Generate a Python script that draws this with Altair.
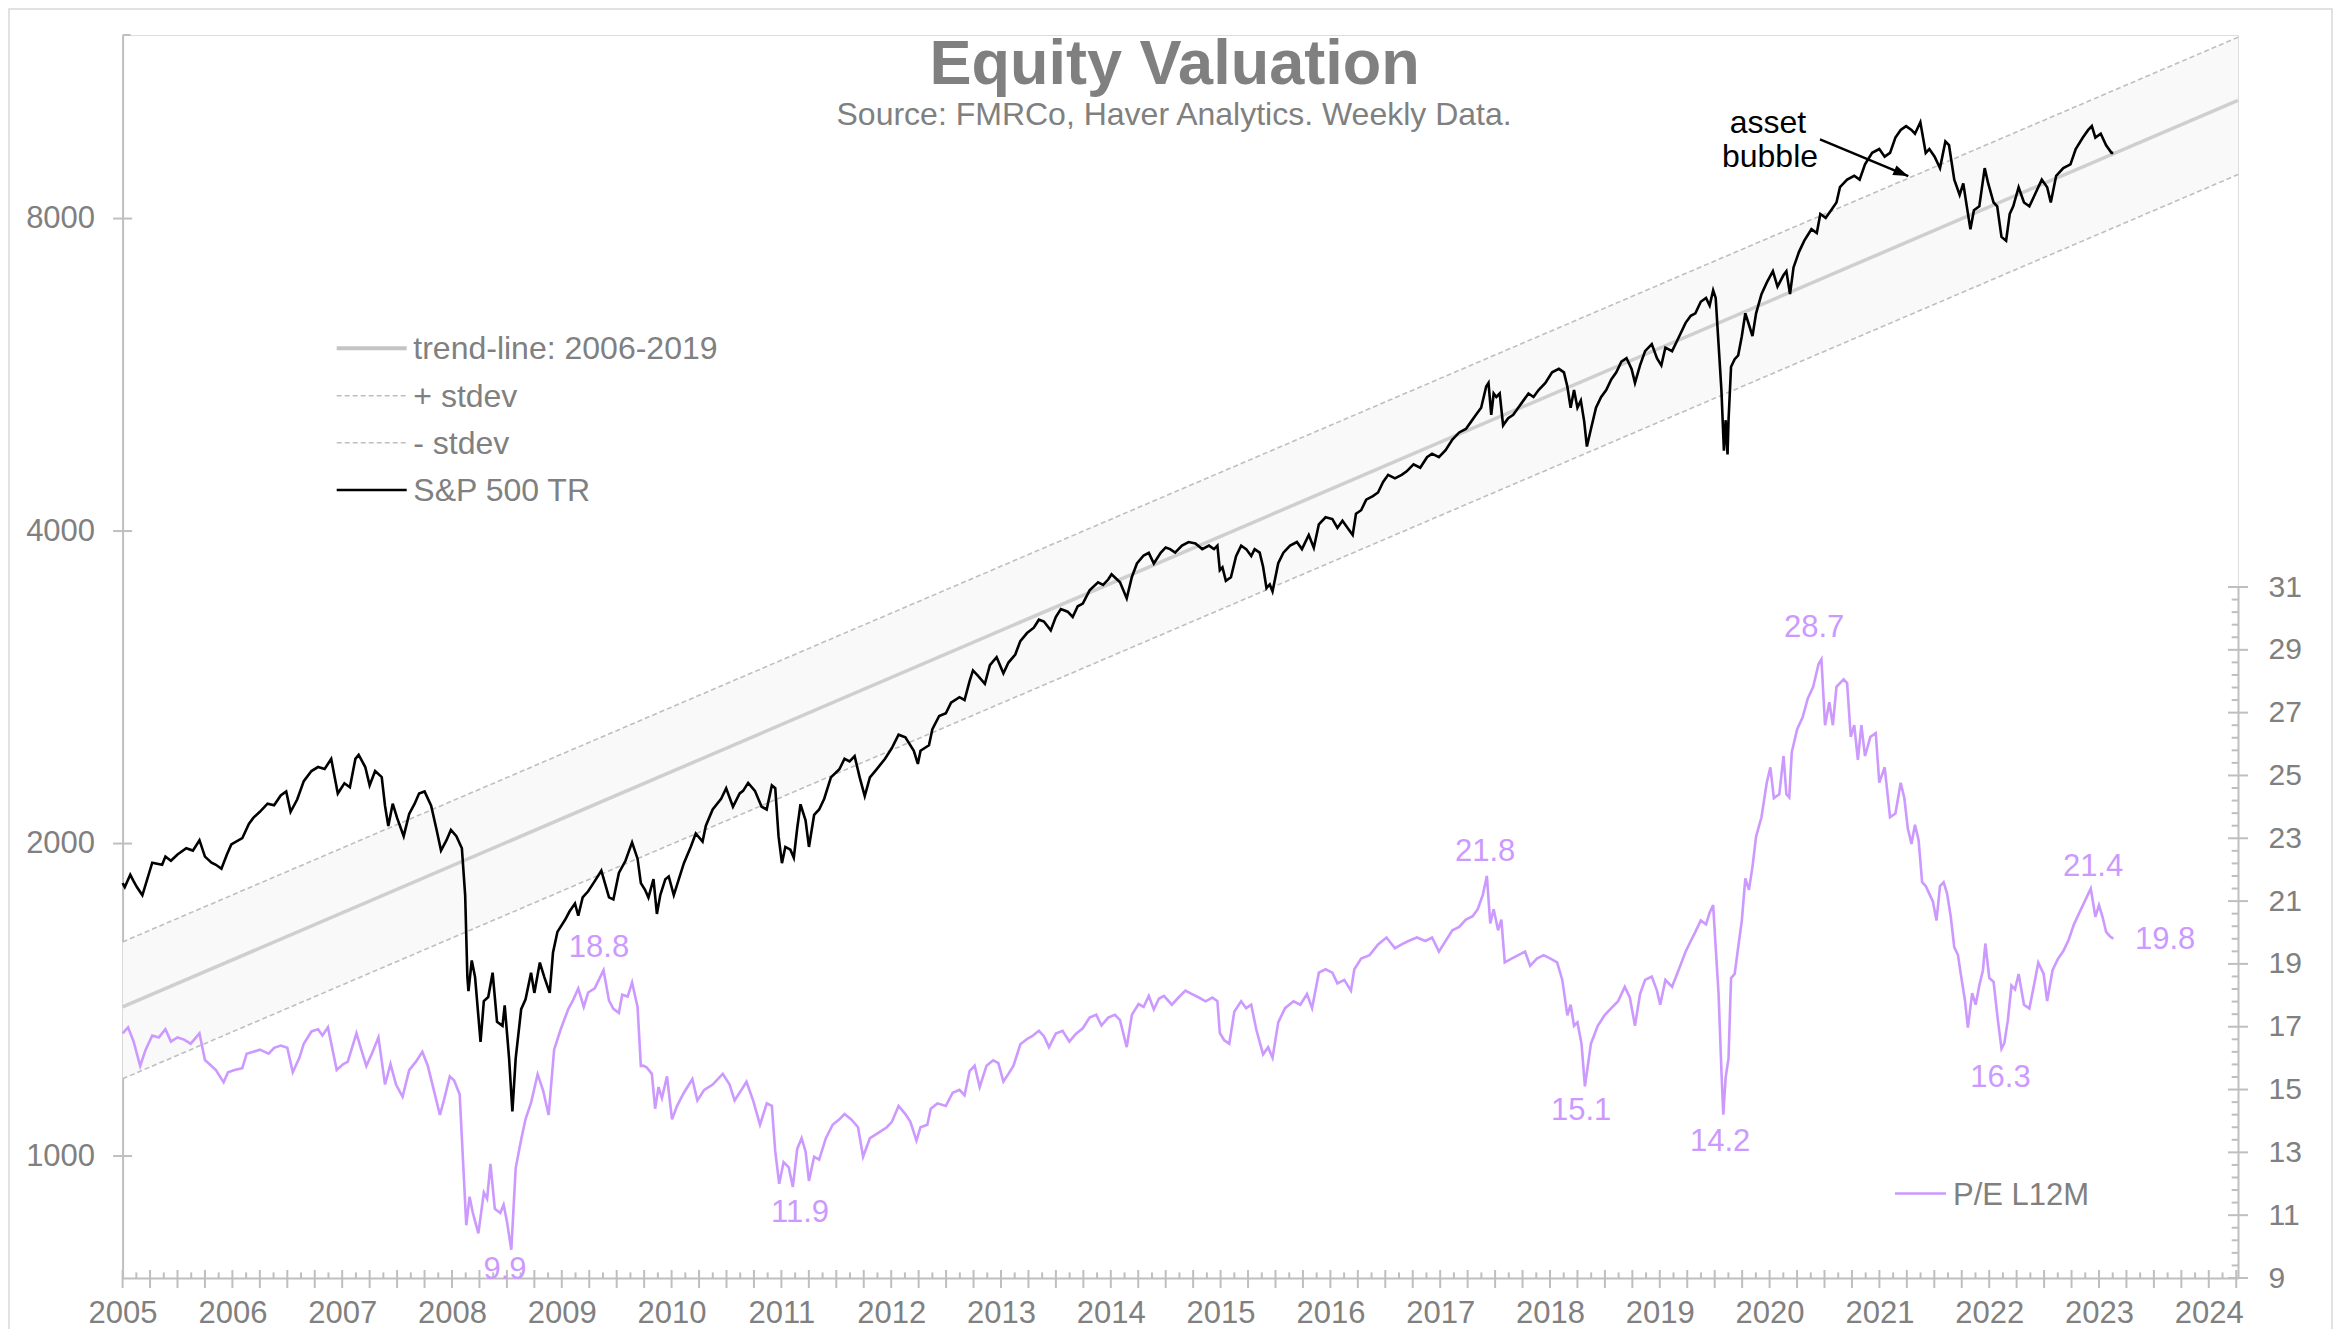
import altair as alt
import numpy as np
import pandas as pd

# ---------------- data ----------------
sp_year = [
    2005.00, 2005.02, 2005.07, 2005.10, 2005.13, 2005.18, 2005.27, 2005.36, 2005.39, 2005.44,
    2005.50, 2005.58, 2005.64, 2005.70, 2005.75, 2005.81, 2005.85, 2005.90, 2005.95, 2005.99,
    2006.09, 2006.15, 2006.19, 2006.25, 2006.32, 2006.38, 2006.44, 2006.49, 2006.53, 2006.59,
    2006.65, 2006.72, 2006.78, 2006.84, 2006.90, 2006.96, 2007.02, 2007.07, 2007.12, 2007.15,
    2007.21, 2007.25, 2007.30, 2007.36, 2007.39, 2007.42, 2007.46, 2007.50, 2007.56, 2007.61,
    2007.66, 2007.70, 2007.75, 2007.81, 2007.86, 2007.90, 2007.95, 2007.99, 2008.04, 2008.09,
    2008.12, 2008.14, 2008.15, 2008.18, 2008.21, 2008.26, 2008.29, 2008.33, 2008.37, 2008.41,
    2008.46, 2008.48, 2008.52, 2008.55, 2008.58, 2008.63, 2008.67, 2008.72, 2008.75, 2008.80,
    2008.84, 2008.89, 2008.92, 2008.96, 2009.03, 2009.07, 2009.12, 2009.15, 2009.19, 2009.24,
    2009.30, 2009.36, 2009.43, 2009.47, 2009.52, 2009.58, 2009.64, 2009.69, 2009.72,
    2009.758, 2009.789, 2009.835, 2009.866, 2009.897, 2009.943, 2009.974, 2010.020, 2010.066, 2010.112,
    2010.174, 2010.220, 2010.282, 2010.312, 2010.374, 2010.451, 2010.497, 2010.559, 2010.620, 2010.651,
    2010.697, 2010.759, 2010.820, 2010.866, 2010.913, 2010.944, 2010.974, 2011.005, 2011.036, 2011.082,
    2011.113, 2011.144, 2011.174, 2011.220, 2011.251, 2011.298, 2011.344, 2011.390, 2011.451, 2011.528,
    2011.575, 2011.621, 2011.667, 2011.713, 2011.759, 2011.806, 2011.867, 2011.944, 2012.006, 2012.067,
    2012.129, 2012.206, 2012.243, 2012.267, 2012.344, 2012.375, 2012.437, 2012.498, 2012.545, 2012.622,
    2012.668, 2012.714, 2012.745, 2012.791, 2012.853, 2012.899, 2012.960, 2013.022, 2013.068, 2013.130,
    2013.176, 2013.237, 2013.299, 2013.345, 2013.391, 2013.453, 2013.499, 2013.545, 2013.607, 2013.653,
    2013.699, 2013.745, 2013.807, 2013.884, 2013.930, 2013.976, 2014.007, 2014.084, 2014.145, 2014.192,
    2014.238, 2014.299, 2014.346, 2014.392, 2014.454, 2014.500,
    2014.540, 2014.586, 2014.648, 2014.709, 2014.771, 2014.833, 2014.894, 2014.940, 2014.971, 2014.993,
    2015.017, 2015.048, 2015.094, 2015.141, 2015.187, 2015.233, 2015.279, 2015.310, 2015.356, 2015.387,
    2015.418, 2015.448, 2015.473, 2015.525, 2015.572, 2015.633, 2015.695, 2015.741, 2015.803, 2015.849,
    2015.895, 2015.956, 2016.018, 2016.064, 2016.110, 2016.157, 2016.203, 2016.233, 2016.280, 2016.326,
    2016.387, 2016.434, 2016.480, 2016.526, 2016.588, 2016.649, 2016.695, 2016.757, 2016.818, 2016.880,
    2016.926, 2016.988, 2017.049, 2017.111, 2017.173, 2017.234, 2017.280, 2017.326, 2017.373, 2017.419,
    2017.440, 2017.465, 2017.487, 2017.511, 2017.542, 2017.573, 2017.619, 2017.665, 2017.711, 2017.757,
    2017.804, 2017.850, 2017.896, 2017.958, 2018.019, 2018.081, 2018.127, 2018.158, 2018.188, 2018.219,
    2018.250, 2018.281, 2018.312, 2018.336, 2018.373, 2018.419, 2018.466, 2018.512, 2018.558, 2018.604,
    2018.650, 2018.697, 2018.743, 2018.774, 2018.820, 2018.866, 2018.927, 2018.974, 2019.014, 2019.051,
    2019.112, 2019.174, 2019.235, 2019.282,
    2019.324, 2019.373, 2019.421, 2019.454, 2019.486, 2019.509, 2019.535, 2019.561, 2019.584, 2019.600,
    2019.617, 2019.626, 2019.649, 2019.682, 2019.714, 2019.747, 2019.779, 2019.812, 2019.844, 2019.877,
    2019.926, 2019.974, 2020.030, 2020.072, 2020.127, 2020.153, 2020.186, 2020.218, 2020.267, 2020.316,
    2020.381, 2020.430, 2020.462, 2020.511, 2020.560, 2020.609, 2020.641, 2020.706, 2020.771, 2020.820,
    2020.869, 2020.934, 2020.999, 2021.048, 2021.097, 2021.146, 2021.194, 2021.243, 2021.292, 2021.324,
    2021.373, 2021.422, 2021.455, 2021.503, 2021.552, 2021.601, 2021.634, 2021.682, 2021.731, 2021.764,
    2021.796, 2021.829, 2021.861, 2021.910, 2021.959, 2021.991, 2022.040, 2022.073, 2022.112, 2022.154,
    2022.187, 2022.219, 2022.268, 2022.317, 2022.366, 2022.431, 2022.479, 2022.528, 2022.561, 2022.610,
    2022.675, 2022.740, 2022.788, 2022.853, 2022.902, 2022.935, 2022.967, 2023.016, 2023.065, 2023.114,
    2023.130,
]
sp_value = [
    1832, 1816, 1866, 1840, 1816, 1783, 1917, 1908, 1943, 1925,
    1952, 1979, 1969, 2015, 1943, 1917, 1908, 1891, 1952, 1996,
    2024, 2089, 2117, 2146, 2185, 2177, 2225, 2245, 2146, 2205,
    2297, 2349, 2370, 2360, 2413, 2235, 2286, 2266, 2413, 2435,
    2370, 2276, 2349, 2318, 2175, 2079, 2185, 2117, 2033, 2136,
    2185, 2235, 2245, 2175, 2061, 1969, 2015, 2061, 2033, 1979,
    1783, 1488, 1442, 1543, 1488, 1288, 1410, 1423, 1502, 1347,
    1335, 1397, 1242, 1104, 1242, 1385, 1416, 1502, 1436, 1536,
    1488, 1436, 1571, 1644, 1689, 1720, 1751, 1704, 1775, 1799,
    1840, 1883, 1775, 1767, 1874, 1925, 2005, 1934, 1832,
    1805, 1774, 1848, 1711, 1784, 1848, 1859, 1784, 1848, 1915,
    1985, 2045, 2009, 2081, 2157, 2209, 2261, 2170, 2235, 2248,
    2288, 2248, 2170, 2157, 2275, 2261, 2033, 1915, 1985, 1973,
    1938, 2069, 2182, 2106, 1985, 2131, 2157, 2209, 2316, 2358,
    2414, 2400, 2428, 2316, 2222, 2316, 2358, 2414, 2472, 2546,
    2531, 2457, 2386, 2457, 2487, 2577, 2654, 2670, 2734, 2767,
    2750, 2867, 2936, 2901, 2850, 2971, 3024, 2918, 2988, 3042,
    3134, 3190, 3228, 3286, 3273, 3209, 3306, 3365, 3345, 3306,
    3385, 3405, 3507, 3570, 3549, 3592, 3635, 3570, 3445, 3613,
    3722, 3789, 3811, 3722, 3811, 3857,
    3843, 3813, 3873, 3904, 3892, 3843, 3873, 3843, 3873, 3667,
    3690, 3582, 3610, 3784, 3873, 3843, 3784, 3843, 3813, 3696,
    3525, 3553, 3498, 3724, 3813, 3873, 3904, 3843, 3966, 3855,
    4060, 4124, 4108, 4028, 4092, 4028, 3966, 4157, 4189, 4289,
    4322, 4357, 4461, 4531, 4496, 4531, 4567, 4639, 4603, 4712,
    4749, 4712, 4786, 4900, 4978, 5017, 5096, 5177, 5259, 5512,
    5556, 5177, 5427, 5385, 5427, 5057, 5137, 5177, 5259, 5342,
    5427, 5385, 5469, 5556, 5688, 5732, 5688, 5512, 5259, 5469,
    5259, 5342, 5096, 4825, 5017, 5259, 5385, 5469, 5599, 5688,
    5823, 5868, 5732, 5556, 5777, 5962, 6056, 5868, 5777, 6009,
    5962, 6152, 6348, 6448,
    6484, 6651, 6708, 6596, 6823, 6708, 6059, 5473, 4780, 5115,
    4740, 5115, 5759, 5857, 5907, 6163, 6484, 6321, 6163, 6484,
    6765, 6939, 7118, 6880, 7058, 7118, 6765, 7178, 7426, 7617,
    7813, 7747, 8082, 8013, 8150, 8290, 8576, 8722, 8796, 8722,
    9023, 9255, 9334, 9177, 9255, 9574, 9738, 9821, 9738, 9656,
    9905, 9255, 9334, 9177, 8947, 9493, 9413, 8722, 8432, 8648,
    8219, 7813, 8150, 8219, 8947, 8648, 8290, 8219, 7681, 7617,
    8082, 8219, 8576, 8290, 8219, 8503, 8722, 8576, 8290, 8796,
    8947, 9023, 9334, 9574, 9738, 9821, 9574, 9656, 9413, 9255,
    9255,
]

pe_year = [
    2005.00, 2005.05, 2005.10, 2005.16, 2005.21, 2005.27, 2005.33, 2005.39, 2005.44, 2005.50,
    2005.56, 2005.62, 2005.70, 2005.75, 2005.81, 2005.85, 2005.92, 2005.96, 2006.02, 2006.09,
    2006.13, 2006.19, 2006.25, 2006.33, 2006.38, 2006.44, 2006.50, 2006.55, 2006.61, 2006.65,
    2006.72, 2006.78, 2006.82, 2006.87, 2006.95, 2007.01, 2007.05, 2007.13, 2007.18, 2007.22,
    2007.27, 2007.33, 2007.39, 2007.44, 2007.49, 2007.55, 2007.61, 2007.67, 2007.73, 2007.78,
    2007.84, 2007.89, 2007.93, 2007.98, 2008.02, 2008.07, 2008.10, 2008.13, 2008.16, 2008.19,
    2008.24, 2008.29, 2008.32, 2008.35, 2008.39, 2008.44, 2008.47, 2008.50, 2008.54, 2008.58,
    2008.63, 2008.67, 2008.72, 2008.78, 2008.83, 2008.88, 2008.93, 2008.99, 2009.06, 2009.10,
    2009.15, 2009.20, 2009.24, 2009.30, 2009.38, 2009.43, 2009.47, 2009.52, 2009.55, 2009.60,
    2009.64, 2009.69, 2009.72,
    2009.743, 2009.774, 2009.820, 2009.850, 2009.881, 2009.912, 2009.958, 2010.004, 2010.050, 2010.112,
    2010.189, 2010.235, 2010.297, 2010.374, 2010.466, 2010.528, 2010.574, 2010.636, 2010.682, 2010.743,
    2010.805, 2010.867, 2010.913, 2010.944, 2010.980, 2011.020, 2011.067, 2011.104, 2011.144, 2011.184,
    2011.220, 2011.251, 2011.298, 2011.344, 2011.405, 2011.467, 2011.528, 2011.575, 2011.636, 2011.698,
    2011.744, 2011.806, 2011.883, 2011.960, 2012.006, 2012.067, 2012.129, 2012.175, 2012.230, 2012.267,
    2012.329, 2012.360, 2012.421, 2012.498, 2012.560, 2012.622, 2012.668, 2012.714, 2012.760, 2012.806,
    2012.868, 2012.929, 2012.976, 2013.022, 2013.068, 2013.114, 2013.176, 2013.237, 2013.283, 2013.345,
    2013.391, 2013.437, 2013.499, 2013.561, 2013.622, 2013.684, 2013.745, 2013.807, 2013.868, 2013.915,
    2013.976, 2014.038, 2014.084, 2014.145, 2014.192, 2014.253, 2014.299, 2014.346, 2014.392, 2014.438,
    2014.484,
    2014.556, 2014.617, 2014.679, 2014.740, 2014.802, 2014.863, 2014.925, 2014.971, 2014.993, 2015.033,
    2015.079, 2015.125, 2015.187, 2015.233, 2015.279, 2015.325, 2015.387, 2015.433, 2015.473, 2015.525,
    2015.587, 2015.664, 2015.726, 2015.787, 2015.833, 2015.895, 2015.956, 2016.018, 2016.064, 2016.126,
    2016.187, 2016.218, 2016.280, 2016.357, 2016.434, 2016.511, 2016.588, 2016.649, 2016.711, 2016.788,
    2016.865, 2016.926, 2016.988, 2017.049, 2017.111, 2017.173, 2017.234, 2017.296, 2017.342, 2017.388,
    2017.425, 2017.456, 2017.487, 2017.527, 2017.557, 2017.588, 2017.650, 2017.711, 2017.773, 2017.819,
    2017.881, 2017.942, 2018.004, 2018.065, 2018.112, 2018.158, 2018.188, 2018.219, 2018.250, 2018.287,
    2018.318, 2018.373, 2018.435, 2018.496, 2018.558, 2018.620, 2018.681, 2018.727, 2018.774, 2018.820,
    2018.866, 2018.927, 2018.974, 2019.004, 2019.051, 2019.112, 2019.174, 2019.235, 2019.282,
    2019.324, 2019.373, 2019.421, 2019.454, 2019.486, 2019.509, 2019.535, 2019.561, 2019.578, 2019.600,
    2019.626, 2019.649, 2019.682, 2019.714, 2019.747, 2019.779, 2019.812, 2019.844, 2019.877, 2019.926,
    2019.974, 2020.007, 2020.039, 2020.088, 2020.127, 2020.153, 2020.179, 2020.202, 2020.251, 2020.300,
    2020.348, 2020.397, 2020.446, 2020.472, 2020.505, 2020.544, 2020.576, 2020.609, 2020.641, 2020.674,
    2020.706, 2020.739, 2020.771, 2020.804, 2020.836, 2020.869, 2020.918, 2020.967, 2020.999, 2021.048,
    2021.097, 2021.146, 2021.194, 2021.227, 2021.259, 2021.292, 2021.324, 2021.357, 2021.389, 2021.422,
    2021.455, 2021.487, 2021.520, 2021.552, 2021.585, 2021.617, 2021.650, 2021.682, 2021.715, 2021.747,
    2021.780, 2021.806, 2021.845, 2021.877, 2021.910, 2021.943, 2021.965, 2022.001, 2022.040, 2022.079,
    2022.112, 2022.138, 2022.170, 2022.203, 2022.235, 2022.268, 2022.317, 2022.366, 2022.414, 2022.447,
    2022.496, 2022.528, 2022.577, 2022.626, 2022.675, 2022.724, 2022.772, 2022.821, 2022.870, 2022.925,
    2022.967, 2023.000, 2023.032, 2023.065, 2023.097, 2023.130,
]
pe_value = [
    16.79, 16.98, 16.53, 15.75, 16.27, 16.72, 16.66, 16.92, 16.53, 16.66,
    16.59, 16.46, 16.79, 15.94, 15.75, 15.62, 15.23, 15.55, 15.62, 15.68,
    16.14, 16.20, 16.27, 16.14, 16.33, 16.40, 16.33, 15.55, 16.01, 16.46,
    16.85, 16.92, 16.72, 16.98, 15.62, 15.81, 15.88, 16.79, 16.20, 15.75,
    16.14, 16.66, 15.16, 15.81, 15.16, 14.77, 15.62, 15.88, 16.20, 15.75,
    14.90, 14.19, 14.71, 15.42, 15.29, 14.84, 12.76, 10.68, 11.59, 11.07,
    10.42, 11.72, 11.52, 12.63, 11.20, 11.07, 11.33, 10.81, 9.90, 12.50,
    13.41, 14.06, 14.58, 15.49, 14.97, 14.19, 16.27, 16.92, 17.57, 17.83,
    18.22, 17.63, 18.09, 18.22, 18.80, 17.83, 17.57, 17.44, 18.02, 17.96,
    18.41, 17.63, 15.75,
    15.76, 15.70, 15.50, 14.39, 15.08, 14.73, 15.42, 14.05, 14.48, 14.90,
    15.33, 14.65, 14.99, 15.16, 15.50, 15.16, 14.65, 14.99, 15.25, 14.65,
    13.88, 14.56, 14.48, 13.03, 12.00, 12.69, 12.52, 11.90, 13.11, 13.45,
    13.03, 12.09, 12.86, 12.77, 13.45, 13.88, 14.05, 14.22, 14.05, 13.80,
    12.86, 13.45, 13.62, 13.80, 13.97, 14.48, 14.22, 13.97, 13.37, 13.80,
    13.88, 14.39, 14.56, 14.48, 14.90, 14.99, 14.82, 15.59, 15.76, 15.08,
    15.76, 15.93, 15.84, 15.25, 15.50, 15.76, 16.44, 16.61, 16.70, 16.87,
    16.70, 16.35, 16.78, 16.87, 16.53, 16.78, 16.95, 17.29, 17.38, 17.04,
    17.29, 17.38, 17.21, 16.35, 17.38, 17.72, 17.63, 17.98, 17.55, 17.89,
    17.98,
    17.70, 17.93, 18.15, 18.04, 17.93, 17.81, 17.93, 17.81, 16.80, 16.57,
    16.46, 17.48, 17.81, 17.59, 17.70, 16.91, 16.12, 16.35, 16.01, 17.14,
    17.59, 17.81, 17.70, 18.04, 17.59, 18.72, 18.83, 18.72, 18.38, 18.49,
    18.15, 18.83, 19.17, 19.28, 19.62, 19.84, 19.50, 19.62, 19.73, 19.84,
    19.73, 19.84, 19.39, 19.73, 20.07, 20.18, 20.41, 20.52, 20.74, 21.20,
    21.80, 20.29, 20.74, 20.07, 20.41, 19.05, 19.17, 19.28, 19.39, 18.94,
    19.17, 19.28, 19.17, 19.05, 18.49, 17.36, 17.70, 17.03, 17.14, 16.46,
    15.10, 16.46, 17.03, 17.36, 17.59, 17.81, 18.27, 17.93, 17.03, 18.04,
    18.49, 18.60, 18.15, 17.70, 18.49, 18.27, 18.83, 19.39, 19.73,
    20.02, 20.38, 20.26, 20.63, 20.87, 19.53, 18.07, 15.63, 14.20, 15.39,
    16.00, 18.55, 18.68, 19.53, 20.38, 21.72, 21.36, 22.09, 23.06, 23.67,
    24.77, 25.26, 24.28, 24.40, 25.62, 24.40, 24.30, 25.74, 26.47, 26.84,
    27.45, 27.82, 28.55, 28.70, 26.60, 27.33, 26.60, 27.82, 27.94, 28.06,
    27.94, 26.23, 26.60, 25.50, 26.60, 25.62, 26.23, 26.35, 24.77, 25.26,
    23.67, 23.79, 24.77, 24.28, 23.31, 22.82, 23.43, 22.94, 21.60, 21.48,
    21.23, 20.99, 20.38, 21.48, 21.60, 21.23, 20.50, 19.53, 19.29, 18.55,
    17.82, 16.97, 18.07, 17.70, 18.31, 18.80, 19.65, 18.55, 18.43, 17.21,
    16.30, 16.48, 17.21, 18.31, 18.19, 18.68, 17.70, 17.58, 18.43, 19.04,
    18.68, 17.82, 18.80, 19.16, 19.41, 19.77, 20.26, 20.63, 20.99, 21.40,
    20.50, 20.87, 20.50, 20.02, 19.89, 19.80,
]

band_year = [2005.0, 2024.266]
trend_value = [1392, 10400]
upper_value = [1608, 11960]
lower_value = [1187, 8820]

pe_label_text = ["9.9", "18.8", "11.9", "21.8", "15.1", "14.2", "28.7", "16.3", "21.4", "19.8"]
pe_label_year = [2008.483, 2009.339, 2011.170, 2017.409, 2018.284, 2019.550, 2020.406, 2022.103, 2022.946, 2023.602]
pe_label_value = [9.25, 19.51, 11.08, 22.57, 14.32, 13.33, 29.70, 15.37, 22.09, 19.76]

arrow_year = [2020.459, 2021.263]
arrow_value = [9536, 8790]

x_label_years = list(range(2005, 2025))
left_tick_values = [1000, 2000, 4000, 8000]
right_tick_values = list(range(9, 32, 2))

assert len(sp_year) == len(sp_value)
assert len(pe_year) == len(pe_value)

# ---------------- styling ----------------
FONT = "Liberation Sans"
GREY = "#808080"
AXIS_GREY = "#BFBFBF"
PURPLE = "#CC99FF"
W = 2115.4
H = 1243.0

sp_df = pd.DataFrame({"year": sp_year, "value": sp_value})
pe_df = pd.DataFrame({"year": pe_year, "pe": pe_value})
band_df = pd.DataFrame({"year": band_year, "trend": trend_value,
                        "upper": upper_value, "lower": lower_value})
lab_df = pd.DataFrame({"year": pe_label_year, "pe": pe_label_value, "label": pe_label_text})
arrow_df = pd.DataFrame({"year": arrow_year, "value": arrow_value})
head_df = arrow_df.iloc[[1]].reset_index(drop=True)
one = pd.DataFrame({"a": [0]})

q = np.arange(2005.0, 2024.27, 0.25)
xt_major = pd.DataFrame({"year": q})
qm = q + 0.125
xt_minor = pd.DataFrame({"year": qm[qm < 2024.266]})
lt_df = pd.DataFrame({"value": left_tick_values})
rt_major = pd.DataFrame({"pe": right_tick_values})
rt_minor = pd.DataFrame({"pe": [round(9 + 0.4 * i, 1) for i in range(56) if i % 5 != 0]})

x_scale = alt.Scale(domain=[2005, 2024.266], nice=False, zero=False)
x_axis = alt.Axis(values=x_label_years, format="d", ticks=False, tickSize=0, labelPadding=20,
                  labelFontSize=31, labelColor=GREY, labelFont=FONT, domainColor=AXIS_GREY,
                  domainWidth=2, grid=False, title=None, labelFlush=False, labelOverlap=False)
X = alt.X("year:Q", scale=x_scale, axis=x_axis)

yl_scale = alt.Scale(type="log", domain=[763, 12020], nice=False)
yl_axis = alt.Axis(values=left_tick_values, format="d", ticks=False, tickSize=0, labelPadding=28,
                   labelFontSize=31, labelColor=GREY, labelFont=FONT, domainColor=AXIS_GREY,
                   domainWidth=2, grid=False, title=None, labelOverlap=False, orient="left")


def YL(f):
    return alt.Y(f"{f}:Q", scale=yl_scale, axis=yl_axis)


yr_scale = alt.Scale(domain=[9, 31], range=[H, H - 691], nice=False, zero=False)
yr_axis = alt.Axis(values=right_tick_values, format="d", ticks=False, tickSize=0, labelPadding=30,
                   labelFontSize=30, labelColor=GREY, labelFont=FONT, domainColor=AXIS_GREY,
                   domainWidth=2, grid=False, title=None, labelOverlap=False, orient="right")


def YR(f):
    return alt.Y(f"{f}:Q", scale=yr_scale, axis=yr_axis)


def txt(text, x, y, size, color, align="left", bold=False):
    return alt.Chart(one).mark_text(
        text=text, align=align, baseline="alphabetic", fontSize=size, color=color,
        font=FONT, fontWeight="bold" if bold else "normal"
    ).encode(x=alt.value(x), y=alt.value(y))


def sample(x1, x2, y, color, width, dash=None):
    kw = dict(color=color, strokeWidth=width)
    if dash:
        kw["strokeDash"] = dash
    return alt.Chart(one).mark_rule(**kw).encode(x=alt.value(x1), x2=alt.value(x2), y=alt.value(y))


frame = alt.Chart(one).mark_rect(fill="transparent", stroke="#D9D9D9", strokeWidth=1.5).encode(
    x=alt.value(-113.6), x2=alt.value(2209.4), y=alt.value(-26), y2=alt.value(1400))

band = alt.Chart(band_df).mark_area(color="#F9F9F9").encode(x=X, y=YL("upper"), y2=alt.Y2("lower:Q"))
upper = alt.Chart(band_df).mark_line(color=AXIS_GREY, strokeWidth=1.6, strokeDash=[5, 3]).encode(x=X, y=YL("upper"))
lower = alt.Chart(band_df).mark_line(color=AXIS_GREY, strokeWidth=1.6, strokeDash=[5, 3]).encode(x=X, y=YL("lower"))
trend = alt.Chart(band_df).mark_line(color="#CFCFCF", strokeWidth=3.5).encode(x=X, y=YL("trend"))
sp = alt.Chart(sp_df).mark_line(color="black", strokeWidth=2.6).encode(x=X, y=YL("value"))

arrow_line = alt.Chart(arrow_df).mark_line(color="black", strokeWidth=2.5).encode(x=X, y=YL("value"))
arrow_head = alt.Chart(head_df).mark_point(
    shape="M0,0L-2,-0.7L-2,0.7Z", size=225, angle=22.8, filled=True, color="black",
    opacity=1, strokeWidth=0).encode(x=X, y=YL("value"))

left_ticks = alt.Chart(lt_df).mark_rule(color=AXIS_GREY, strokeWidth=2).encode(
    y=YL("value"), x=alt.value(-9.5), x2=alt.value(9.5))
top_stub = alt.Chart(one).mark_rule(color=AXIS_GREY, strokeWidth=2).encode(
    x=alt.value(0), x2=alt.value(8), y=alt.value(0))
xmaj = alt.Chart(xt_major).mark_rule(color=AXIS_GREY, strokeWidth=2).encode(
    x=X, y=alt.value(H - 8), y2=alt.value(H + 10))
xmin = alt.Chart(xt_minor).mark_rule(color=AXIS_GREY, strokeWidth=2).encode(
    x=X, y=alt.value(H - 5.6), y2=alt.value(H))

title = txt("Equity Valuation", 1052, 49, 63, GREY, align="center", bold=True)
subtitle = txt("Source: FMRCo, Haver Analytics. Weekly Data.", 1051.5, 90, 32, GREY, align="center")

leg = [
    sample(214.1, 284.1, 313.3, "#C4C4C4", 4),
    sample(214.1, 284.1, 360.7, AXIS_GREY, 1.6, [5, 3]),
    sample(214.1, 284.1, 407.7, AXIS_GREY, 1.6, [5, 3]),
    sample(214.1, 284.1, 455.0, "black", 2.6),
    txt("trend-line: 2006-2019", 290.7, 324.3, 32, GREY),
    txt("+ stdev", 290.7, 371.7, 32, GREY),
    txt("- stdev", 290.7, 418.7, 32, GREY),
    txt("S&P 500 TR", 290.7, 466.0, 32, GREY),
]
asset1 = txt("asset", 1645.4, 98, 32, "black", align="center")
asset2 = txt("bubble", 1647.4, 132, 32, "black", align="center")

left = alt.layer(frame, band, upper, lower, trend, sp, arrow_line, arrow_head, left_ticks,
                 top_stub, xmaj, xmin, title, subtitle, *leg, asset1, asset2)

pe_line = alt.Chart(pe_df).mark_line(color=PURPLE, strokeWidth=2.6).encode(x=X, y=YR("pe"))
pe_labels = alt.Chart(lab_df).mark_text(
    align="center", baseline="middle", fontSize=31, color=PURPLE, font=FONT
).encode(x=X, y=YR("pe"), text="label:N")
r_major = alt.Chart(rt_major).mark_rule(color=AXIS_GREY, strokeWidth=2).encode(
    y=YR("pe"), x=alt.value(W - 10), x2=alt.value(W + 10))
r_minor = alt.Chart(rt_minor).mark_rule(color=AXIS_GREY, strokeWidth=2).encode(
    y=YR("pe"), x=alt.value(W - 6.3), x2=alt.value(W))
pe_leg_line = sample(1772.4, 1823.4, 1158.5, PURPLE, 2.6)
pe_leg_text = txt("P/E L12M", 1830.4, 1169.6, 31, GREY)

right = alt.layer(r_minor, r_major, pe_line, pe_labels, pe_leg_line, pe_leg_text)

chart = alt.layer(left, right).resolve_scale(y="independent").properties(
    width=W, height=H,
    autosize=alt.AutoSizeParams(type="none"),
    padding={"left": 114.6, "top": 27, "right": 96, "bottom": 51},
).configure_view(strokeWidth=0).configure(font=FONT)

chart.save("out.html", embed_options={"renderer": "svg", "actions": False})
